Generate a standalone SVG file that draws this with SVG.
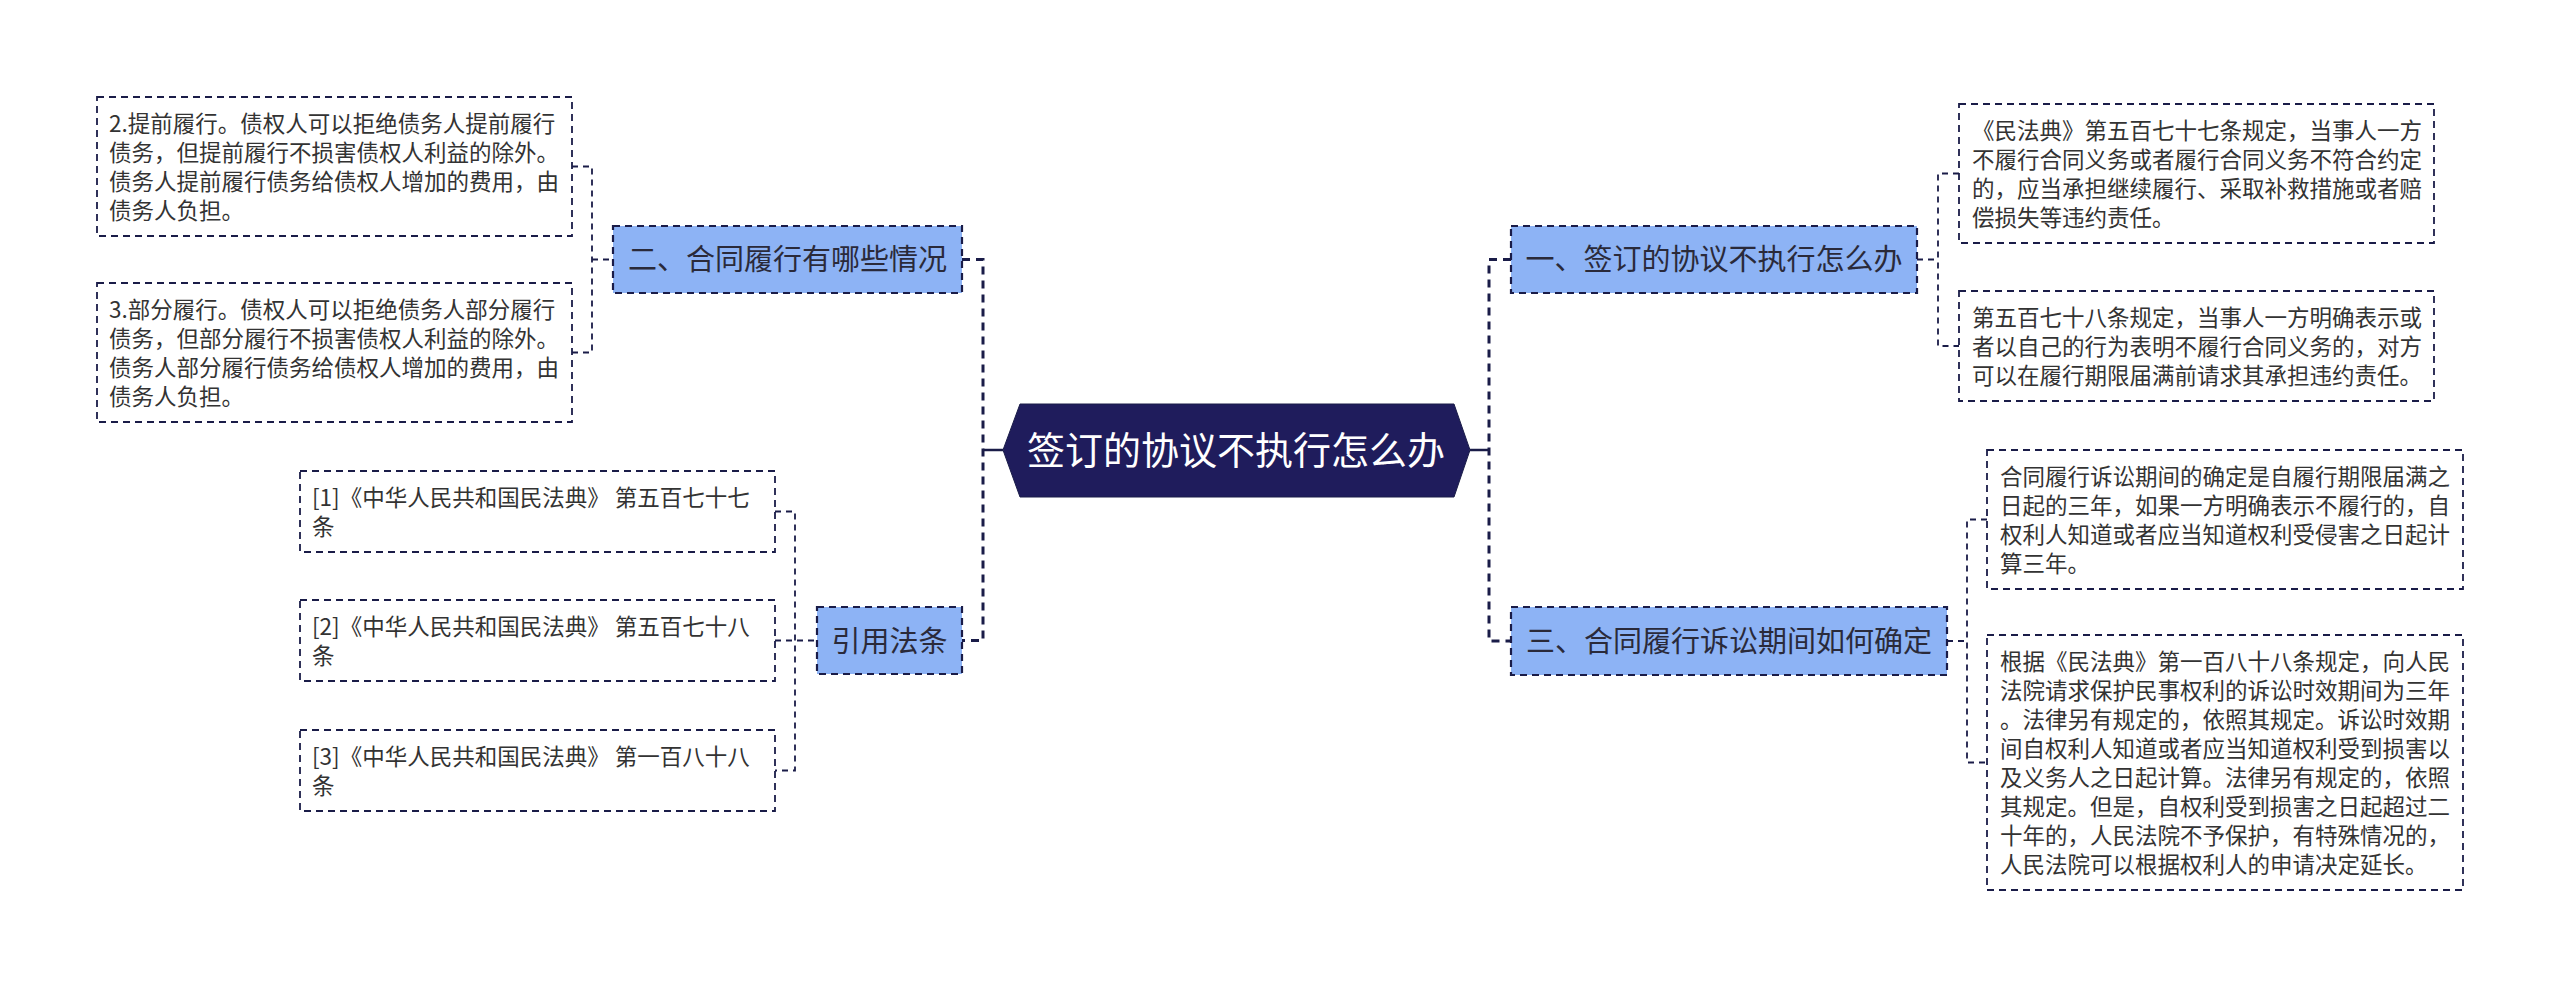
<svg xmlns="http://www.w3.org/2000/svg" width="2560" height="988" viewBox="0 0 2560 988">
<defs>
<style>
.leaf{fill:#ffffff;stroke:#1a1c48;stroke-width:1.8;stroke-dasharray:7 5}
.topic{fill:#8db3f5;stroke:#1a1c48;stroke-width:2.2;stroke-dasharray:7 5}
.lt{font-family:"Noto Sans CJK SC","Noto Sans",sans-serif;font-size:22.5px;fill:#333333}
.nt{font-family:"Noto Sans CJK SC","Noto Sans",sans-serif;font-size:29px;fill:#2a2a3a;text-anchor:middle}
.ct{font-family:"Noto Sans CJK SC","Noto Sans",sans-serif;font-size:38px;fill:#ffffff;text-anchor:middle}
.trunk{fill:none;stroke:#1a1c48;stroke-width:3;stroke-dasharray:8 6}
.thin{fill:none;stroke:#1a1c48;stroke-width:1.8;stroke-dasharray:6 5}
.solid{fill:none;stroke:#1a1c48;stroke-width:2.5}
</style>
</defs>
<rect width="2560" height="988" fill="#ffffff"/>
<g id="connectors">
<path class="trunk" d="M962,259.5 H983 V640.5 H962"/>
<path class="solid" d="M983,450 H1003"/>
<path class="trunk" d="M1511,259.5 H1489 V641 H1511"/>
<path class="solid" d="M1470,450 H1489"/>
<path class="thin" d="M572,166.5 H592 V352.5 H572"/>
<path class="thin" d="M592,259.5 H613"/>
<path class="thin" d="M775,511.5 H795 V770.5 H775"/>
<path class="thin" d="M775,640.5 H817"/>
<path class="thin" d="M1959,173.5 H1938 V346 H1959"/>
<path class="thin" d="M1917,259.5 H1938"/>
<path class="thin" d="M1987,519.5 H1967 V762.5 H1987"/>
<path class="thin" d="M1947,641 H1967"/>
</g>
<g id="root">
<polygon points="1003,450 1020,404 1454,404 1470,450 1454,497 1020,497" fill="#1f1c5c" stroke="#1a1c48" stroke-width="1"/>
<text class="ct" x="1236" y="464">签订的协议不执行怎么办</text>
</g>
<g id="topic-2">
<rect class="topic" x="613" y="226" width="349" height="67"/>
<text class="nt" x="787.5" y="270">二、合同履行有哪些情况</text>
</g>
<g id="topic-ref">
<rect class="topic" x="817" y="607" width="145" height="67"/>
<text class="nt" x="889.5" y="651.5">引用法条</text>
</g>
<g id="topic-1">
<rect class="topic" x="1511" y="226" width="406" height="67"/>
<text class="nt" x="1714" y="270">一、签订的协议不执行怎么办</text>
</g>
<g id="topic-3">
<rect class="topic" x="1511" y="607" width="436" height="68"/>
<text class="nt" x="1729" y="652">三、合同履行诉讼期间如何确定</text>
</g>
<g id="leaf-l1">
<rect class="leaf" x="97" y="97" width="475" height="139"/>
<text class="lt" x="109" y="131.5"><tspan x="109">2.提前履行。债权人可以拒绝债务人提前履行</tspan><tspan x="109" dy="29">债务，但提前履行不损害债权人利益的除外。</tspan><tspan x="109" dy="29">债务人提前履行债务给债权人增加的费用，由</tspan><tspan x="109" dy="29">债务人负担。</tspan></text>
</g>
<g id="leaf-l2">
<rect class="leaf" x="97" y="283" width="475" height="139"/>
<text class="lt" x="109" y="317.5"><tspan x="109">3.部分履行。债权人可以拒绝债务人部分履行</tspan><tspan x="109" dy="29">债务，但部分履行不损害债权人利益的除外。</tspan><tspan x="109" dy="29">债务人部分履行债务给债权人增加的费用，由</tspan><tspan x="109" dy="29">债务人负担。</tspan></text>
</g>
<g id="ref-1">
<rect class="leaf" x="300" y="471" width="475" height="81"/>
<text class="lt" x="312" y="505.5"><tspan x="312">[1]《中华人民共和国民法典》 第五百七十七</tspan><tspan x="312" dy="29">条</tspan></text>
</g>
<g id="ref-2">
<rect class="leaf" x="300" y="600" width="475" height="81"/>
<text class="lt" x="312" y="634.5"><tspan x="312">[2]《中华人民共和国民法典》 第五百七十八</tspan><tspan x="312" dy="29">条</tspan></text>
</g>
<g id="ref-3">
<rect class="leaf" x="300" y="730" width="475" height="81"/>
<text class="lt" x="312" y="764.5"><tspan x="312">[3]《中华人民共和国民法典》 第一百八十八</tspan><tspan x="312" dy="29">条</tspan></text>
</g>
<g id="leaf-a">
<rect class="leaf" x="1959" y="104" width="475" height="139"/>
<text class="lt" x="1972" y="138.5"><tspan x="1972">《民法典》第五百七十七条规定，当事人一方</tspan><tspan x="1972" dy="29">不履行合同义务或者履行合同义务不符合约定</tspan><tspan x="1972" dy="29">的，应当承担继续履行、采取补救措施或者赔</tspan><tspan x="1972" dy="29">偿损失等违约责任。</tspan></text>
</g>
<g id="leaf-b">
<rect class="leaf" x="1959" y="291" width="475" height="110"/>
<text class="lt" x="1972" y="325.5"><tspan x="1972">第五百七十八条规定，当事人一方明确表示或</tspan><tspan x="1972" dy="29">者以自己的行为表明不履行合同义务的，对方</tspan><tspan x="1972" dy="29">可以在履行期限届满前请求其承担违约责任。</tspan></text>
</g>
<g id="leaf-c">
<rect class="leaf" x="1987" y="450" width="476" height="139"/>
<text class="lt" x="2000" y="484.5"><tspan x="2000">合同履行诉讼期间的确定是自履行期限届满之</tspan><tspan x="2000" dy="29">日起的三年，如果一方明确表示不履行的，自</tspan><tspan x="2000" dy="29">权利人知道或者应当知道权利受侵害之日起计</tspan><tspan x="2000" dy="29">算三年。</tspan></text>
</g>
<g id="leaf-d">
<rect class="leaf" x="1987" y="635" width="476" height="255"/>
<text class="lt" x="2000" y="669.5"><tspan x="2000">根据《民法典》第一百八十八条规定，向人民</tspan><tspan x="2000" dy="29">法院请求保护民事权利的诉讼时效期间为三年</tspan><tspan x="2000" dy="29">。法律另有规定的，依照其规定。诉讼时效期</tspan><tspan x="2000" dy="29">间自权利人知道或者应当知道权利受到损害以</tspan><tspan x="2000" dy="29">及义务人之日起计算。法律另有规定的，依照</tspan><tspan x="2000" dy="29">其规定。但是，自权利受到损害之日起超过二</tspan><tspan x="2000" dy="29">十年的，人民法院不予保护，有特殊情况的，</tspan><tspan x="2000" dy="29">人民法院可以根据权利人的申请决定延长。</tspan></text>
</g>
</svg>
